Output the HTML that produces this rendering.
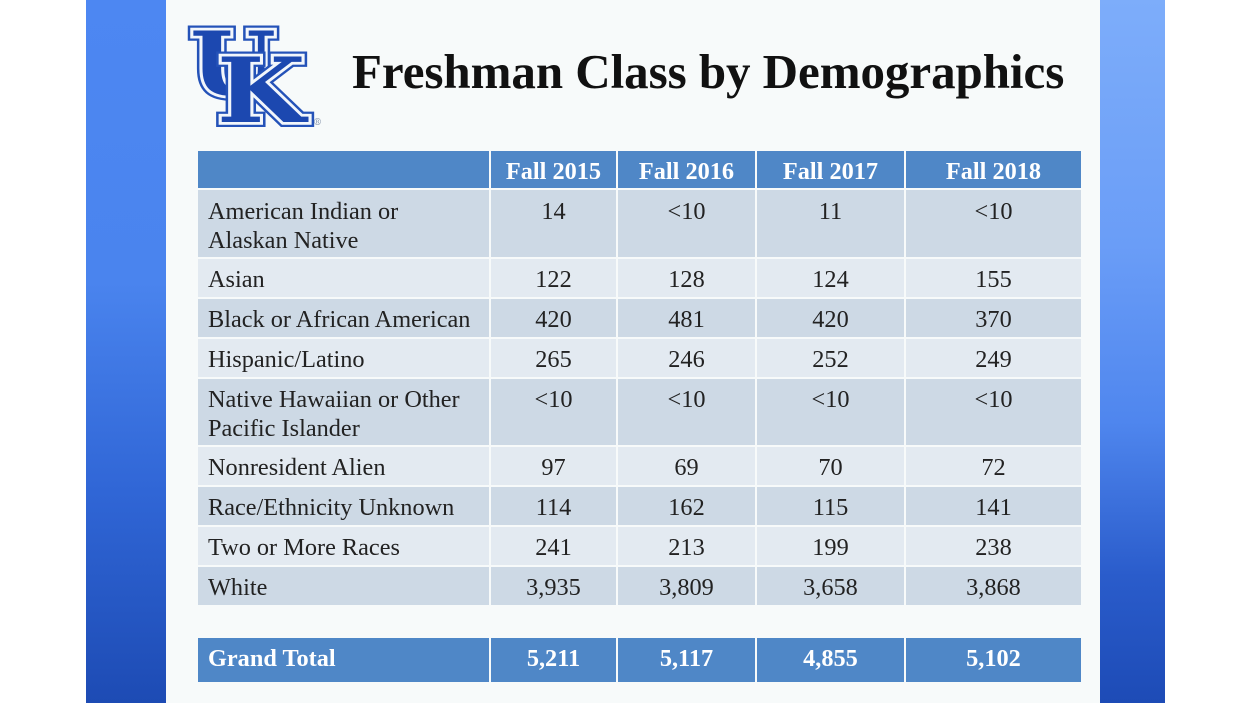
<!DOCTYPE html>
<html><head><meta charset="utf-8"><style>
*{margin:0;padding:0;box-sizing:border-box}
html,body{width:1250px;height:703px;overflow:hidden;background:#fff}
body{position:relative;font-family:"Liberation Serif","Times New Roman",serif}
.lb{position:absolute;left:86px;top:0;width:80px;height:703px;background:linear-gradient(#4d87f2 0%,#4a84ee 40%,#3066d6 70%,#1d4bb4 100%)}
.rb{position:absolute;left:1100px;top:0;width:65px;height:703px;background:linear-gradient(#7dadfa 0%,#6a9df7 35%,#4f86ee 60%,#2a5ccb 82%,#1d4bb6 100%)}
.slide{position:absolute;left:166px;top:0;width:934px;height:703px;background:#f7fafa}
.title{position:absolute;left:352px;top:47px;font-size:49px;line-height:49px;font-weight:bold;color:#111;white-space:nowrap;letter-spacing:-0.05px}
.c{position:absolute;font-size:24.3px;line-height:29px;padding-top:6px;color:#222;white-space:nowrap}
.n{text-align:center}
.l{padding-left:10px}
.h{background:#4f87c7;color:#fff;font-weight:bold}
.d{background:#cdd9e5}
.g{background:#e3eaf1}
</style></head><body>
<div class="lb"></div>
<div class="slide"></div>
<div class="rb"></div>

<svg style="position:absolute;left:180px;top:20px" width="150" height="115" viewBox="0 0 150 115">
  <g font-family="DejaVu Serif, serif" font-weight="bold" stroke-linejoin="miter">
    <g transform="translate(10,75) scale(1.12,1)">
      <text x="0" y="0" font-size="88" fill="#1c48b0" stroke="#2452b8" stroke-width="10">U</text>
      <text x="0" y="0" font-size="88" fill="#1c48b0" stroke="#f2f6fb" stroke-width="5.5">U</text>
      <text x="0" y="0" font-size="88" fill="#1c48b0">U</text>
    </g>
    <g transform="translate(37,102) scale(1.13,1)">
      <text x="0" y="0" font-size="90" fill="#1c48b0" stroke="#2452b8" stroke-width="10">K</text>
      <text x="0" y="0" font-size="90" fill="#1c48b0" stroke="#f2f6fb" stroke-width="5.5">K</text>
      <text x="0" y="0" font-size="90" fill="#1c48b0">K</text>
    </g>
    <text x="133" y="105" font-size="9" font-weight="normal" fill="#8090a8">®</text>
  </g>
</svg>

<div class="title">Freshman Class by Demographics</div>

<!-- header -->
<div class="c h" style="left:198px;top:151px;width:291px;height:37px"></div>
<div class="c h n" style="left:491px;top:151px;width:125px;height:37px">Fall 2015</div>
<div class="c h n" style="left:618px;top:151px;width:137px;height:37px">Fall 2016</div>
<div class="c h n" style="left:757px;top:151px;width:147px;height:37px">Fall 2017</div>
<div class="c h n" style="left:906px;top:151px;width:175px;height:37px">Fall 2018</div>

<!-- row 1 -->
<div class="c d l" style="left:198px;top:190px;width:291px;height:67px;padding-top:7px">American Indian or<br>Alaskan Native</div>
<div class="c d n" style="left:491px;top:190px;width:125px;height:67px;padding-top:7px">14</div>
<div class="c d n" style="left:618px;top:190px;width:137px;height:67px;padding-top:7px">&lt;10</div>
<div class="c d n" style="left:757px;top:190px;width:147px;height:67px;padding-top:7px">11</div>
<div class="c d n" style="left:906px;top:190px;width:175px;height:67px;padding-top:7px">&lt;10</div>

<!-- row 2 -->
<div class="c g l" style="left:198px;top:259px;width:291px;height:38px">Asian</div>
<div class="c g n" style="left:491px;top:259px;width:125px;height:38px">122</div>
<div class="c g n" style="left:618px;top:259px;width:137px;height:38px">128</div>
<div class="c g n" style="left:757px;top:259px;width:147px;height:38px">124</div>
<div class="c g n" style="left:906px;top:259px;width:175px;height:38px">155</div>

<!-- row 3 -->
<div class="c d l" style="left:198px;top:299px;width:291px;height:38px">Black or African American</div>
<div class="c d n" style="left:491px;top:299px;width:125px;height:38px">420</div>
<div class="c d n" style="left:618px;top:299px;width:137px;height:38px">481</div>
<div class="c d n" style="left:757px;top:299px;width:147px;height:38px">420</div>
<div class="c d n" style="left:906px;top:299px;width:175px;height:38px">370</div>

<!-- row 4 -->
<div class="c g l" style="left:198px;top:339px;width:291px;height:38px">Hispanic/Latino</div>
<div class="c g n" style="left:491px;top:339px;width:125px;height:38px">265</div>
<div class="c g n" style="left:618px;top:339px;width:137px;height:38px">246</div>
<div class="c g n" style="left:757px;top:339px;width:147px;height:38px">252</div>
<div class="c g n" style="left:906px;top:339px;width:175px;height:38px">249</div>

<!-- row 5 -->
<div class="c d l" style="left:198px;top:379px;width:291px;height:66px">Native Hawaiian or Other<br>Pacific Islander</div>
<div class="c d n" style="left:491px;top:379px;width:125px;height:66px">&lt;10</div>
<div class="c d n" style="left:618px;top:379px;width:137px;height:66px">&lt;10</div>
<div class="c d n" style="left:757px;top:379px;width:147px;height:66px">&lt;10</div>
<div class="c d n" style="left:906px;top:379px;width:175px;height:66px">&lt;10</div>

<!-- row 6 -->
<div class="c g l" style="left:198px;top:447px;width:291px;height:38px">Nonresident Alien</div>
<div class="c g n" style="left:491px;top:447px;width:125px;height:38px">97</div>
<div class="c g n" style="left:618px;top:447px;width:137px;height:38px">69</div>
<div class="c g n" style="left:757px;top:447px;width:147px;height:38px">70</div>
<div class="c g n" style="left:906px;top:447px;width:175px;height:38px">72</div>

<!-- row 7 -->
<div class="c d l" style="left:198px;top:487px;width:291px;height:38px">Race/Ethnicity Unknown</div>
<div class="c d n" style="left:491px;top:487px;width:125px;height:38px">114</div>
<div class="c d n" style="left:618px;top:487px;width:137px;height:38px">162</div>
<div class="c d n" style="left:757px;top:487px;width:147px;height:38px">115</div>
<div class="c d n" style="left:906px;top:487px;width:175px;height:38px">141</div>

<!-- row 8 -->
<div class="c g l" style="left:198px;top:527px;width:291px;height:38px">Two or More Races</div>
<div class="c g n" style="left:491px;top:527px;width:125px;height:38px">241</div>
<div class="c g n" style="left:618px;top:527px;width:137px;height:38px">213</div>
<div class="c g n" style="left:757px;top:527px;width:147px;height:38px">199</div>
<div class="c g n" style="left:906px;top:527px;width:175px;height:38px">238</div>

<!-- row 9 -->
<div class="c d l" style="left:198px;top:567px;width:291px;height:38px">White</div>
<div class="c d n" style="left:491px;top:567px;width:125px;height:38px">3,935</div>
<div class="c d n" style="left:618px;top:567px;width:137px;height:38px">3,809</div>
<div class="c d n" style="left:757px;top:567px;width:147px;height:38px">3,658</div>
<div class="c d n" style="left:906px;top:567px;width:175px;height:38px">3,868</div>

<!-- total -->
<div class="c h l" style="left:198px;top:638px;width:291px;height:44px">Grand Total</div>
<div class="c h n" style="left:491px;top:638px;width:125px;height:44px">5,211</div>
<div class="c h n" style="left:618px;top:638px;width:137px;height:44px">5,117</div>
<div class="c h n" style="left:757px;top:638px;width:147px;height:44px">4,855</div>
<div class="c h n" style="left:906px;top:638px;width:175px;height:44px">5,102</div>
</body></html>
